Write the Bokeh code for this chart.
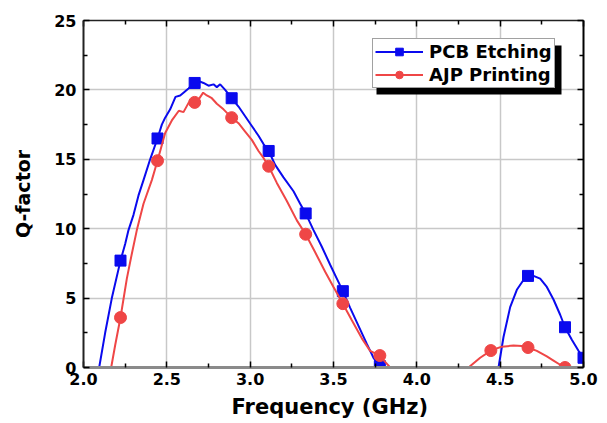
from bokeh.plotting import figure
from bokeh.models import (Range1d, LinearAxis, Legend, LegendItem, BoxAnnotation,
                          FixedTicker, NumeralTickFormatter)
from bokeh.embed import file_html
from bokeh.resources import INLINE

nan = float("nan")

# PCB Etching curve (two lobes, separated by NaN)
pcb_f = [2.094, 2.13, 2.17, 2.222, 2.25, 2.27, 2.30, 2.33, 2.36, 2.40, 2.444, 2.47, 2.49,
         2.52, 2.552, 2.58, 2.60, 2.63, 2.667, 2.70, 2.72, 2.75, 2.78, 2.80, 2.82, 2.85,
         2.889, 2.93, 2.97, 3.01, 3.05, 3.08, 3.111, 3.15, 3.20, 3.26, 3.30, 3.333, 3.38,
         3.43, 3.48, 3.52, 3.556, 3.60, 3.65, 3.70, 3.74, 3.778, 3.80,
         nan,
         4.49, 4.52, 4.56, 4.60, 4.64, 4.667, 4.70, 4.74, 4.78, 4.82, 4.86, 4.889, 4.93,
         4.97, 5.0]
pcb_q = [0.0, 2.5, 5.0, 7.7, 8.9, 9.9, 11.0, 12.4, 13.5, 15.0, 16.5, 17.5, 18.0,
         18.6, 19.5, 19.6, 19.8, 20.1, 20.5, 20.6, 20.5, 20.3, 20.4, 20.2, 20.4, 20.0,
         19.4, 18.8, 18.1, 17.4, 16.7, 16.1, 15.6, 14.6, 13.7, 12.7, 11.8, 11.1, 9.9,
         8.7, 7.4, 6.4, 5.5, 4.3, 3.0, 1.7, 0.7, 0.1, 0.0,
         nan,
         0.0, 2.2, 4.35, 5.6, 6.3, 6.6, 6.6, 6.4, 5.8, 4.9, 3.8, 2.9, 2.0,
         1.2, 0.7]

# AJP Printing curve
ajp_f = [2.166, 2.19, 2.222, 2.26, 2.29, 2.32, 2.36, 2.41, 2.444, 2.49, 2.53, 2.572,
         2.60, 2.632, 2.667, 2.69, 2.718, 2.74, 2.77, 2.80, 2.84, 2.889, 2.93, 2.97,
         3.01, 3.05, 3.08, 3.111, 3.16, 3.22, 3.28, 3.333, 3.39, 3.45, 3.50, 3.556,
         3.61, 3.67, 3.72, 3.778, 3.81, 3.84,
         nan,
         4.31, 4.38, 4.444, 4.51, 4.58, 4.63, 4.667, 4.72, 4.78, 4.82, 4.86, 4.889, 4.92]
ajp_q = [0.0, 1.6, 3.6, 6.4, 8.2, 9.9, 11.8, 13.5, 14.9, 16.9, 17.8, 18.5,
         18.4, 19.1, 19.1, 19.3, 19.8, 19.6, 19.4, 19.0, 18.6, 18.0, 17.6, 17.0,
         16.4, 15.6, 15.1, 14.5, 13.3, 12.0, 10.6, 9.6, 8.3, 6.9, 5.8, 4.6,
         3.4, 2.1, 1.2, 0.86, 0.4, 0.0,
         nan,
         0.0, 0.7, 1.22, 1.5, 1.58, 1.55, 1.44, 1.2, 0.8, 0.5, 0.2, 0.0, 0.0]

# Marker points
pcb_mf = [2.222, 2.444, 2.667, 2.889, 3.111, 3.333, 3.556, 3.778, 4.667, 4.889, 5.0]
pcb_mq = [7.7, 16.5, 20.5, 19.4, 15.6, 11.1, 5.5, 0.1, 6.6, 2.9, 0.7]
ajp_mf = [2.222, 2.444, 2.667, 2.889, 3.111, 3.333, 3.556, 3.778, 4.444, 4.667, 4.889]
ajp_mq = [3.6, 14.9, 19.1, 18.0, 14.5, 9.6, 4.6, 0.86, 1.22, 1.44, 0.0]

x_ticks = [2.0, 2.5, 3.0, 3.5, 4.0, 4.5, 5.0]
x_minor = [2.25, 2.75, 3.25, 3.75, 4.25, 4.75]
y_ticks = [0, 5, 10, 15, 20, 25]
y_minor = [2.5, 7.5, 12.5, 17.5, 22.5]

BLUE = "#0a0aee"
RED = "#ef4646"
FONT = "DejaVu Sans"

p = figure(width=599, height=423, output_backend="svg", toolbar_location=None,
           x_range=Range1d(2.0, 5.0), y_range=Range1d(0, 25),
           min_border_left=83, min_border_right=16, min_border_top=20, min_border_bottom=56)
p.background_fill_color = "white"
p.border_fill_color = "white"
p.outline_line_color = None

# legend shadow
shadow = BoxAnnotation(left=3.758, right=4.868, top=23.2, bottom=19.67,
                       fill_color="black", fill_alpha=1.0, line_color=None)
p.add_layout(shadow)

l1 = p.line(pcb_f, pcb_q, line_color=BLUE, line_width=2)
s1 = p.scatter(pcb_mf, pcb_mq, marker="square", size=11, fill_color=BLUE, line_color=BLUE)
l2 = p.line(ajp_f, ajp_q, line_color=RED, line_width=2)
s2 = p.scatter(ajp_mf, ajp_mq, marker="circle", size=12, fill_color=RED, line_color=RED)

legend = Legend(items=[LegendItem(label="PCB Etching", renderers=[l1, s1]),
                       LegendItem(label="AJP Printing", renderers=[l2, s2])],
                location=(289, 279), glyph_width=48, glyph_height=19, label_height=18,
                spacing=2, padding=2, margin=0, label_standoff=6,
                label_text_font=FONT, label_text_font_style="bold",
                label_text_font_size="18px", label_text_color="black",
                border_line_color="#444444", border_line_width=1,
                background_fill_color="white", background_fill_alpha=1.0)
p.add_layout(legend)

# grid
for g in (p.xgrid[0], p.ygrid[0]):
    g.grid_line_color = "#c8c8c8"
    g.grid_line_width = 1.5
p.xgrid[0].ticker = FixedTicker(ticks=x_ticks)
p.ygrid[0].ticker = FixedTicker(ticks=y_ticks)

def style_axis(ax, show_labels=True):
    ax.major_tick_in = 6
    ax.major_tick_out = 0
    ax.minor_tick_in = 4
    ax.minor_tick_out = 0
    ax.major_tick_line_color = "black"
    ax.minor_tick_line_color = "black"
    ax.major_tick_line_width = 1.5
    ax.minor_tick_line_width = 1.5
    if show_labels:
        ax.major_label_text_font = FONT
        ax.major_label_text_font_style = "bold"
        ax.major_label_text_font_size = "16px"
        ax.major_label_text_color = "black"
    else:
        ax.major_label_standoff = 0
        ax.major_label_overrides = {t: "" for t in ax.ticker.ticks}

xa = p.xaxis[0]
xa.ticker = FixedTicker(ticks=x_ticks, minor_ticks=x_minor)
xa.formatter = NumeralTickFormatter(format="0.0")
style_axis(xa)
xa.axis_line_color = "#8a8a8a"
xa.axis_line_width = 3
xa.major_label_standoff = 5
xa.axis_label = "Frequency  (GHz)"
xa.axis_label_text_font = FONT
xa.axis_label_text_font_style = "bold"
xa.axis_label_text_font_size = "21px"
xa.axis_label_text_color = "black"
xa.axis_label_standoff = 7

ya = p.yaxis[0]
ya.ticker = FixedTicker(ticks=y_ticks, minor_ticks=y_minor)
style_axis(ya)
ya.axis_line_color = "#222222"
ya.axis_line_width = 2
ya.major_label_standoff = 7
ya.axis_label = "Q-factor"
ya.axis_label_text_font = FONT
ya.axis_label_text_font_style = "bold"
ya.axis_label_text_font_size = "19px"
ya.axis_label_text_color = "black"
ya.axis_label_standoff = 17

top = LinearAxis(ticker=FixedTicker(ticks=x_ticks, minor_ticks=x_minor))
style_axis(top, show_labels=False)
top.axis_line_color = "#222222"
top.axis_line_width = 1.5
p.add_layout(top, "above")

right = LinearAxis(ticker=FixedTicker(ticks=y_ticks, minor_ticks=y_minor))
style_axis(right, show_labels=False)
right.axis_line_color = "black"
right.axis_line_width = 2
p.add_layout(right, "right")

open("out.html", "w").write(file_html(p, INLINE))
